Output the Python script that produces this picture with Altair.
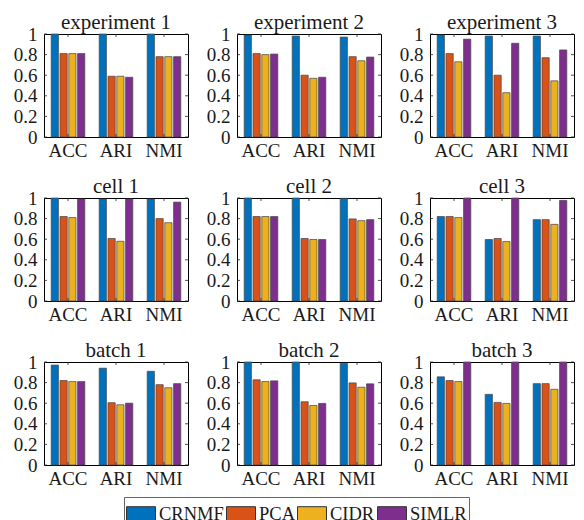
import altair as alt
import pandas as pd

panels = ["experiment 1", "experiment 2", "experiment 3",
          "cell 1", "cell 2", "cell 3",
          "batch 1", "batch 2", "batch 3"]
metrics = ["ACC", "ARI", "NMI"]
methods = ["CRNMF", "PCA", "CIDR", "SIMLR"]
colors = ["#0072BD", "#D95319", "#EDB120", "#7E2F8E"]

# values[panel][method] -> [ACC, ARI, NMI]
crnmf = [[1.00, 1.00, 1.00], [0.99, 0.98, 0.97], [0.99, 0.98, 0.98],
         [1.00, 0.99, 0.99], [1.00, 1.00, 0.997], [0.82, 0.597, 0.79],
         [0.97, 0.94, 0.91], [1.00, 1.00, 0.987], [0.856, 0.686, 0.79]]
pca = [[0.81, 0.59, 0.78], [0.81, 0.60, 0.78], [0.81, 0.60, 0.77],
       [0.82, 0.607, 0.80], [0.82, 0.607, 0.797], [0.82, 0.607, 0.79],
       [0.82, 0.605, 0.78], [0.827, 0.614, 0.797], [0.82, 0.608, 0.79]]
cidr = [[0.81, 0.59, 0.78], [0.80, 0.57, 0.74], [0.73, 0.43, 0.545],
        [0.81, 0.58, 0.76], [0.82, 0.597, 0.78], [0.81, 0.577, 0.744],
        [0.81, 0.585, 0.75], [0.81, 0.578, 0.755], [0.81, 0.598, 0.735]]
simlr = [[0.81, 0.58, 0.78], [0.805, 0.58, 0.776], [0.95, 0.91, 0.845],
         [0.99, 0.99, 0.96], [0.82, 0.597, 0.79], [1.00, 1.00, 0.977],
         [0.81, 0.60, 0.79], [0.817, 0.598, 0.788], [1.00, 1.00, 1.00]]

y_ticks = [0, 0.2, 0.4, 0.6, 0.8, 1]

rows = []
for pi, p in enumerate(panels):
    for mi, m in enumerate(metrics):
        for name, vals in zip(methods, [crnmf, pca, cidr, simlr]):
            rows.append({"panel": p, "metric": m, "method": name, "value": vals[pi][mi]})
df = pd.DataFrame(rows)
ytick_df = pd.DataFrame({"value": y_ticks})
xtick_df = pd.DataFrame({"metric": metrics})

W, H = 144, 103
SERIF = "Liberation Serif"
TXT = "#1a1a1a"
TL = 3  # inward tick length

xscale = alt.Scale(domain=metrics, paddingInner=0.3, paddingOuter=0.15)
yscale = alt.Scale(domain=[0, 1], nice=False)
xaxis = alt.Axis(labelAngle=0, tickSize=0, domain=False, labelPadding=4,
                 labelFont=SERIF, labelFontSize=19, labelColor=TXT)
yaxis = alt.Axis(values=y_ticks, tickSize=0, domain=False, grid=False,
                 labelPadding=7, labelFont=SERIF, labelFontSize=19, labelColor=TXT,
                 labelExpr="datum.value == 0 ? '0' : datum.value == 1 ? '1' : format(datum.value, '.1f')")


def panel_chart(p):
    bars = alt.Chart(df).transform_filter(alt.datum.panel == p).mark_bar(
        stroke="#444444", strokeWidth=0.7
    ).encode(
        x=alt.X("metric:N", sort=metrics, title=None, scale=xscale, axis=xaxis),
        xOffset=alt.XOffset("method:N", sort=methods, scale=alt.Scale(paddingInner=0.18)),
        y=alt.Y("value:Q", title=None, scale=yscale, axis=yaxis),
        color=alt.Color("method:N", sort=methods,
                        scale=alt.Scale(domain=methods, range=colors),
                        legend=alt.Legend(title=None, orient="none", direction="horizontal",
                                          legendX=80, legendY=463,
                                          symbolType="M-1,-0.52H1V0.52H-1Z", symbolSize=841,
                                          symbolStrokeColor="#333333", symbolStrokeWidth=1,
                                          labelFont=SERIF, labelFontSize=18.5, labelColor=TXT,
                                          columnPadding=0, labelOffset=3,
                                          strokeColor="#666666", padding=2, fillColor="white")),
    )
    yl = alt.Chart(ytick_df).mark_rule(color="#262626", strokeWidth=0.8).encode(
        y=alt.Y("value:Q", title=None, scale=yscale, axis=yaxis), x=alt.value(0), x2=alt.value(TL))
    yr = alt.Chart(ytick_df).mark_rule(color="#262626", strokeWidth=0.8).encode(
        y=alt.Y("value:Q", title=None, scale=yscale, axis=yaxis), x=alt.value(W - TL), x2=alt.value(W))
    xb = alt.Chart(xtick_df).mark_rule(color="#262626", strokeWidth=0.8).encode(
        x=alt.X("metric:N", sort=metrics, title=None, scale=xscale, axis=xaxis),
        y=alt.value(H - TL), y2=alt.value(H))
    xt = alt.Chart(xtick_df).mark_rule(color="#262626", strokeWidth=0.8).encode(
        x=alt.X("metric:N", sort=metrics, title=None, scale=xscale, axis=xaxis),
        y=alt.value(0), y2=alt.value(TL))
    return alt.layer(bars, yl, yr, xb, xt).properties(
        width=W, height=H,
        title=alt.TitleParams(p, font=SERIF, fontSize=21, fontWeight="normal",
                              color=TXT, offset=0, dy=8, frame="group"))


chart = alt.concat(*[panel_chart(p) for p in panels], columns=3,
                   spacing={"row": 61, "column": 49}, bounds="flush").configure_view(
    stroke="#000000", strokeWidth=1
).configure_title(font=SERIF, fontWeight="normal").properties(
    background="white", padding={"left": 4, "top": 3, "right": 0, "bottom": 0})

chart.save("out.html", embed_options={"renderer": "svg", "actions": False})
